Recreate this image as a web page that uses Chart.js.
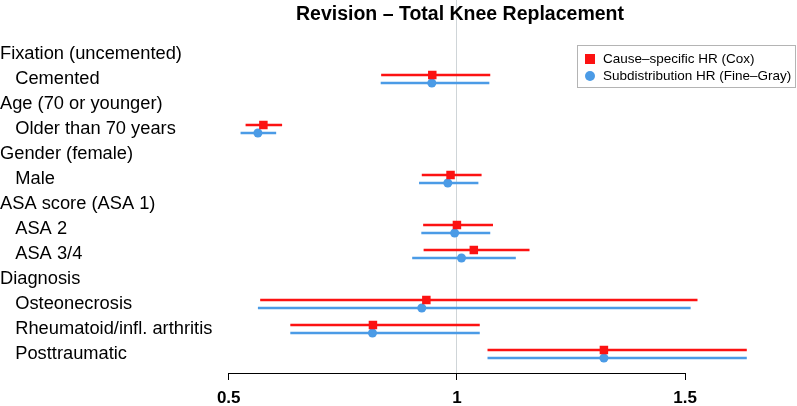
<!DOCTYPE html>
<html>
<head>
<meta charset="utf-8">
<script src="https://cdn.jsdelivr.net/npm/chart.js@4.4.1/dist/chart.umd.min.js"></script>
<style>
  html, body { margin: 0; padding: 0; background: #fff; }
  #wrap { width: 797px; height: 406px; position: relative; }
</style>
</head>
<body>
<div id="wrap"><canvas id="forest"></canvas></div>
<script>
const rowLabels = [
  'Fixation (uncemented)', 'Cemented',
  'Age (70 or younger)', 'Older than 70 years',
  'Gender (female)', 'Male',
  'ASA score (ASA 1)', 'ASA 2', 'ASA 3/4',
  'Diagnosis', 'Osteonecrosis', 'Rheumatoid/infl. arthritis', 'Posttraumatic'
];
const headerRows = [0, 2, 4, 6, 9];

// Cause-specific HR (Cox)
const coxHR   = [null, 0.946, null, 0.576, null, 0.986, null, 1.000, 1.037, null, 0.933, 0.816, 1.322];
const coxLow  = [null, 0.834, null, 0.537, null, 0.923, null, 0.926, 0.927, null, 0.569, 0.635, 1.067];
const coxHigh = [null, 1.073, null, 0.617, null, 1.054, null, 1.079, 1.159, null, 1.527, 1.050, 1.635];

// Subdistribution HR (Fine-Gray)
const fgHR   = [null, 0.945, null, 0.564, null, 0.980, null, 0.995, 1.010, null, 0.923, 0.815, 1.322];
const fgLow  = [null, 0.833, null, 0.526, null, 0.917, null, 0.922, 0.902, null, 0.564, 0.635, 1.067];
const fgHigh = [null, 1.071, null, 0.604, null, 1.047, null, 1.073, 1.129, null, 1.512, 1.050, 1.635];

const xTicks = [0.5, 1, 1.5];
const xTickLabels = ['0.5', '1', '1.5'];

const seriesNames = ['Cause\u2013specific HR (Cox)', 'Subdistribution HR (Fine\u2013Gray)'];
const titleText = 'Revision \u2013 Total Knee Replacement';

const RED = '#fc1212';
const BLUE = '#4b9be6';
const FONT = '"Liberation Sans", Arial, Helvetica, sans-serif';

// vertical shift of each series inside its row (in row units)
const coxShift = -0.14;
const fgShift = 0.18;

function pointData(hr, shift) {
  const out = [];
  hr.forEach((v, i) => {
    if (v !== null) out.push({ x: v, y: i + shift });
  });
  return out;
}

function ciData(lo, hi, shift) {
  const out = [];
  lo.forEach((v, i) => {
    if (v === null) return;
    out.push({ x: v, y: i + shift }, { x: hi[i], y: i + shift }, { x: null, y: null });
  });
  return out;
}

// keep the axes from reserving room for half-labels at the ends
function noEndPadding(s) {
  s.paddingTop = 0;
  s.paddingBottom = 0;
  s.paddingLeft = 0;
  s.paddingRight = 0;
}

const decorations = {
  id: 'decorations',
  afterDraw(chart) {
    const ctx = chart.ctx;
    const xs = chart.scales.x;
    const area = chart.chartArea;
    ctx.save();

    // R-style axis line, only between first and last tick
    ctx.strokeStyle = '#000';
    ctx.lineWidth = 1;
    ctx.beginPath();
    ctx.moveTo(xs.getPixelForValue(xTicks[0]) - 0.5, area.bottom + 0.5);
    ctx.lineTo(xs.getPixelForValue(xTicks[xTicks.length - 1]) + 0.5, area.bottom + 0.5);
    ctx.stroke();

    // title
    ctx.fillStyle = '#000';
    ctx.font = 'bold 19.5px ' + FONT;
    ctx.textAlign = 'center';
    ctx.textBaseline = 'middle';
    ctx.fillText(titleText, 460, 15);

    // legend box
    const bx = 577, by = 45, bw = 219, bh = 43;
    ctx.fillStyle = '#fff';
    ctx.fillRect(bx, by, bw, bh);
    ctx.strokeStyle = '#b4b4b4';
    ctx.strokeRect(bx + 0.5, by + 0.5, bw - 1, bh - 1);

    ctx.fillStyle = RED;
    ctx.fillRect(585, 54, 10, 10);
    ctx.fillStyle = BLUE;
    ctx.beginPath();
    ctx.arc(590, 76, 5, 0, Math.PI * 2);
    ctx.fill();

    ctx.fillStyle = '#000';
    ctx.font = '13.5px ' + FONT;
    ctx.textAlign = 'left';
    ctx.fillText(seriesNames[0], 603, 59.5);
    ctx.fillText(seriesNames[1], 603, 76.5);
    ctx.restore();
  }
};

new Chart(document.getElementById('forest'), {
  type: 'line',
  data: {
    datasets: [
      {
        label: seriesNames[0],
        data: pointData(coxHR, coxShift),
        showLine: false,
        pointStyle: 'rect',
        pointRadius: 6,
        pointBackgroundColor: RED,
        pointBorderWidth: 0,
        order: 0
      },
      {
        label: seriesNames[1],
        data: pointData(fgHR, fgShift),
        showLine: false,
        pointStyle: 'circle',
        pointRadius: 4.5,
        pointBackgroundColor: BLUE,
        pointBorderWidth: 0,
        order: 0
      },
      {
        label: 'cox ci',
        data: ciData(coxLow, coxHigh, coxShift),
        borderColor: RED,
        borderWidth: 2.5,
        pointRadius: 0,
        spanGaps: false,
        order: 1
      },
      {
        label: 'fg ci',
        data: ciData(fgLow, fgHigh, fgShift),
        borderColor: BLUE,
        borderWidth: 2.5,
        pointRadius: 0,
        spanGaps: false,
        order: 1
      }
    ]
  },
  options: {
    responsive: true,
    maintainAspectRatio: false,
    animation: false,
    events: [],
    layout: { padding: 0, autoPadding: false },
    plugins: {
      legend: { display: false },
      tooltip: { enabled: false },
      title: { display: false }
    },
    scales: {
      x: {
        type: 'linear',
        min: 0.47,
        max: 1.745,
        afterBuildTicks: s => { s.ticks = xTicks.map(v => ({ value: v })); },
        afterFit: s => { s.height = 33; noEndPadding(s); },
        border: { display: false },
        grid: {
          color: c => (c.tick && c.tick.value === 1) ? '#cfd5d8' : 'rgba(0,0,0,0)',
          lineWidth: 1,
          tickColor: '#000',
          tickLength: 7,
          tickWidth: 1
        },
        ticks: {
          color: '#000',
          padding: 8,
          maxRotation: 0,
          font: { family: FONT, size: 17, weight: 'bold' },
          callback: v => xTickLabels[xTicks.indexOf(v)]
        }
      },
      y: {
        type: 'linear',
        reverse: true,
        min: -2.14,
        max: 12.78,
        afterBuildTicks: s => { s.ticks = rowLabels.map((_, i) => ({ value: i })); },
        afterFit: s => { s.width = 215; noEndPadding(s); },
        border: { display: false },
        grid: { display: false },
        ticks: {
          autoSkip: false,
          crossAlign: 'far',
          padding: 0,
          color: '#000',
          font: { family: FONT, size: 18.3 },
          callback: v => (headerRows.includes(v) ? '' : '   ') + rowLabels[v]
        }
      }
    }
  },
  plugins: [decorations]
});
</script>
</body>
</html>
